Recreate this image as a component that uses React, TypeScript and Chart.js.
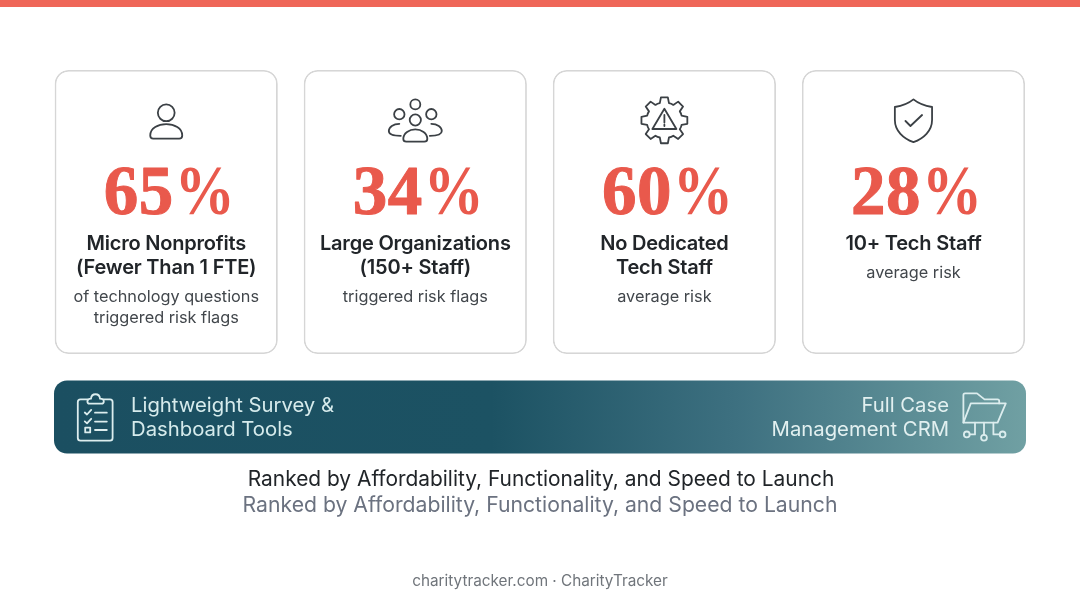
import React, { useEffect, useRef } from "react";
import { Chart, registerables } from "chart.js";

Chart.register(...registerables);

const riskShares = [65, 34, 60, 28];
const cardTitles = [
  ["Micro Nonprofits", "(Fewer Than 1 FTE)"],
  ["Large Organizations", "(150+ Staff)"],
  ["No Dedicated", "Tech Staff"],
  ["10+ Tech Staff"],
];
const cardNotes = [
  ["of technology questions", "triggered risk flags"],
  ["triggered risk flags"],
  ["average risk"],
  ["average risk"],
];
const bandLeft = ["Lightweight Survey &", "Dashboard Tools"];
const bandRight = ["Full Case", "Management CRM"];
const headline = "Ranked by Affordability, Functionality, and Speed to Launch";
const subline = "Ranked by Affordability, Functionality, and Speed to Launch";
const footer = "charitytracker.com · CharityTracker";

const INK = "#212529";
const NOTE = "#41464b";
const ICON = "#3b4045";
const CORAL = "#e9594c";
const SANS = "Inter, 'Noto Sans', sans-serif";
const SERIF = "'Liberation Serif', serif";

const put = (
  ctx: CanvasRenderingContext2D,
  text: string,
  x: number,
  y: number,
  font: string,
  color: string,
  align: CanvasTextAlign = "center",
  spacing = "0px"
) => {
  ctx.font = font;
  ctx.fillStyle = color;
  ctx.textAlign = align;
  ctx.textBaseline = "alphabetic";
  (ctx as any).letterSpacing = spacing;
  ctx.fillText(text, x, y);
  (ctx as any).letterSpacing = "0px";
};

// digits at full width, the percent sign squeezed like the display face in the reference
const putShare = (c: CanvasRenderingContext2D, value: number, x: number, y: number) => {
  const left = x - 62.5;
  put(c, `${value}`, left, y, `bold 69px ${SERIF}`, CORAL, "left", "0.5px");
  c.strokeStyle = CORAL;
  c.lineWidth = 1;
  (c as any).letterSpacing = "0.5px";
  c.strokeText(`${value}`, left, y);
  (c as any).letterSpacing = "0px";
  c.save();
  c.translate(left + 71, y);
  c.scale(0.87, 1);
  put(c, "%", 0, 0, `bold 69px ${SERIF}`, CORAL, "left");
  c.restore();
};

const personIcon = (c: CanvasRenderingContext2D, x: number) => {
  c.beginPath();
  c.arc(x, 112.8, 8.4, 0, Math.PI * 2);
  c.stroke();
  c.beginPath();
  c.moveTo(x - 13, 138.6);
  c.quadraticCurveTo(x - 16, 138.6, x - 16, 135.5);
  c.bezierCurveTo(x - 16, 128, x - 8, 124.2, x, 124.2);
  c.bezierCurveTo(x + 8, 124.2, x + 16, 128, x + 16, 135.5);
  c.quadraticCurveTo(x + 16, 138.6, x + 13, 138.6);
  c.closePath();
  c.stroke();
};

const groupIcon = (c: CanvasRenderingContext2D, x: number) => {
  for (const [dx, y, r] of [
    [0, 104.4, 5],
    [-16, 114.2, 5.2],
    [16, 114.2, 5.2],
    [0, 120, 5.6],
  ]) {
    c.beginPath();
    c.arc(x + dx, y, r, 0, Math.PI * 2);
    c.stroke();
  }
  c.beginPath();
  c.moveTo(x - 9, 141.6);
  c.quadraticCurveTo(x - 12, 141.6, x - 12, 139);
  c.bezierCurveTo(x - 12, 133, x - 6, 129.4, x, 129.4);
  c.bezierCurveTo(x + 6, 129.4, x + 12, 133, x + 12, 139);
  c.quadraticCurveTo(x + 12, 141.6, x + 9, 141.6);
  c.closePath();
  c.stroke();
  for (const s of [-1, 1]) {
    c.beginPath();
    c.moveTo(x + s * 16, 123.8);
    c.bezierCurveTo(x + s * 22, 123.8, x + s * 26.5, 127, x + s * 26.5, 131);
    c.bezierCurveTo(x + s * 26.5, 134.5, x + s * 23, 135.8, x + s * 14.5, 135.8);
    c.stroke();
  }
};

const gearIcon = (c: CanvasRenderingContext2D, x: number) => {
  const y = 120.3;
  c.beginPath();
  for (let i = 0; i < 8; i++) {
    const a = (i * Math.PI) / 4 - Math.PI / 2;
    const p = (r: number, d: number) => [x + r * Math.cos(a + d), y + r * Math.sin(a + d)];
    const [x1, y1] = p(17.8, -0.26);
    const [x2, y2] = p(23.2, -0.15);
    const [x3, y3] = p(23.2, 0.15);
    const [x4, y4] = p(17.8, 0.26);
    const [x5, y5] = p(18.2, Math.PI / 8);
    if (i === 0) c.moveTo(x1, y1);
    else c.lineTo(x1, y1);
    c.lineTo(x2, y2);
    c.lineTo(x3, y3);
    c.lineTo(x4, y4);
    c.quadraticCurveTo(x5, y5, ...(p(17.8, Math.PI / 4 - 0.26) as [number, number]));
  }
  c.closePath();
  c.stroke();
  c.beginPath();
  c.moveTo(x, 108.8);
  c.lineTo(x + 12, 129);
  c.lineTo(x - 12, 129);
  c.closePath();
  c.stroke();
  c.beginPath();
  c.moveTo(x, 115);
  c.lineTo(x, 122.6);
  c.moveTo(x, 124.6);
  c.lineTo(x, 126);
  c.stroke();
};

const shieldIcon = (c: CanvasRenderingContext2D, x: number) => {
  c.beginPath();
  c.moveTo(x, 99.4);
  c.bezierCurveTo(x + 5, 103.5, x + 12, 106, x + 18.6, 107);
  c.lineTo(x + 18.6, 120);
  c.bezierCurveTo(x + 18.6, 131, x + 10, 138.5, x, 142.2);
  c.bezierCurveTo(x - 10, 138.5, x - 18.6, 131, x - 18.6, 120);
  c.lineTo(x - 18.6, 107);
  c.bezierCurveTo(x - 12, 106, x - 5, 103.5, x, 99.4);
  c.closePath();
  c.stroke();
  c.beginPath();
  c.moveTo(x - 8, 121);
  c.lineTo(x - 3, 126);
  c.lineTo(x + 8.6, 115);
  c.stroke();
};

const clipboardIcon = (c: CanvasRenderingContext2D) => {
  c.beginPath();
  c.moveTo(87.5, 399.4);
  c.lineTo(80.5, 399.4);
  c.quadraticCurveTo(77.8, 399.4, 77.8, 402);
  c.lineTo(77.8, 438);
  c.quadraticCurveTo(77.8, 440.6, 80.5, 440.6);
  c.lineTo(110, 440.6);
  c.quadraticCurveTo(112.6, 440.6, 112.6, 438);
  c.lineTo(112.6, 402);
  c.quadraticCurveTo(112.6, 399.4, 110, 399.4);
  c.lineTo(103.5, 399.4);
  c.stroke();
  c.beginPath();
  c.moveTo(89.5, 403.6);
  c.quadraticCurveTo(87.4, 403.6, 87.4, 401.4);
  c.quadraticCurveTo(87.4, 398.6, 91, 398.6);
  c.bezierCurveTo(91.4, 392.8, 99.6, 392.8, 100, 398.6);
  c.quadraticCurveTo(103.8, 398.6, 103.8, 401.4);
  c.quadraticCurveTo(103.8, 403.6, 101.5, 403.6);
  c.closePath();
  c.stroke();
  for (const y of [412.7, 421.6, 430]) {
    c.beginPath();
    c.moveTo(95, y);
    c.lineTo(106.8, y);
    c.stroke();
  }
  for (const y of [412.5, 421.4]) {
    c.beginPath();
    c.moveTo(84.8, y);
    c.lineTo(87, y + 2);
    c.lineTo(91.2, y - 2.6);
    c.stroke();
  }
  c.strokeRect(85.2, 427.6, 5, 4.8);
};

const folderIcon = (c: CanvasRenderingContext2D) => {
  c.beginPath();
  c.moveTo(963.4, 422.6);
  c.lineTo(963.4, 395);
  c.quadraticCurveTo(963.4, 393.4, 965, 393.4);
  c.lineTo(977, 393.4);
  c.lineTo(984.5, 399.4);
  c.lineTo(997.5, 399.4);
  c.quadraticCurveTo(999.2, 399.4, 999.2, 401);
  c.lineTo(999.2, 403.4);
  c.stroke();
  c.beginPath();
  c.moveTo(970.8, 403.4);
  c.lineTo(1005.8, 403.4);
  c.lineTo(997.6, 422.6);
  c.lineTo(963.4, 422.6);
  c.closePath();
  c.stroke();
  c.beginPath();
  c.moveTo(984, 422.6);
  c.lineTo(984, 434.8);
  c.moveTo(975, 422.6);
  c.lineTo(975, 434.4);
  c.lineTo(969.6, 434.4);
  c.moveTo(993.4, 422.6);
  c.lineTo(993.4, 434.4);
  c.lineTo(999.8, 434.4);
  c.stroke();
  for (const [x, y] of [
    [966.8, 434.4],
    [984, 437.8],
    [1002.6, 434.4],
  ]) {
    c.beginPath();
    c.arc(x, y, 2.9, 0, Math.PI * 2);
    c.stroke();
  }
};

const cardIcons = [personIcon, groupIcon, gearIcon, shieldIcon];

const slidePlugin = {
  id: "slide",
  beforeDraw(chart: Chart) {
    const c = chart.ctx;
    c.save();
    c.fillStyle = "#ffffff";
    c.fillRect(0, 0, chart.width, chart.height);
    c.fillStyle = "#ef6658";
    c.fillRect(0, 0, chart.width, 7);

    const band = c.createLinearGradient(54, 0, 1026, 0);
    band.addColorStop(0, "#1b4f61");
    band.addColorStop(0.45, "#1c5263");
    band.addColorStop(0.7, "#3d7080");
    band.addColorStop(1, "#70a0a3");
    c.fillStyle = band;
    c.beginPath();
    c.roundRect(54, 380.5, 972, 73, 13);
    c.fill();
    c.restore();
  },
  afterDatasetsDraw(chart: Chart) {
    const c = chart.ctx;
    const bars = chart.getDatasetMeta(0).data;
    c.save();
    bars.forEach((bar, i) => {
      const x = bar.x;
      c.strokeStyle = ICON;
      c.lineWidth = 1.8;
      c.lineJoin = "round";
      c.lineCap = "round";
      cardIcons[i](c, x);

      putShare(c, riskShares[i], x, 214);

      let y = 250;
      cardTitles[i].forEach((line, k) => {
        y = 250 + k * 24;
        put(c, line, x, y, `600 20px ${SANS}`, INK, "center", "-0.2px");
      });
      cardNotes[i].forEach((line, k) => {
        put(c, line, x, y + 28 + k * 21, `400 16.3px ${SANS}`, NOTE);
      });
    });

    c.strokeStyle = "#dcedee";
    c.lineWidth = 1.8;
    c.lineJoin = "round";
    c.lineCap = "round";
    clipboardIcon(c);
    folderIcon(c);
    bandLeft.forEach((line, k) => {
      put(c, line, 131, 412 + k * 23.5, `400 20.3px ${SANS}`, "#d6ebec", "left");
    });
    bandRight.forEach((line, k) => {
      put(c, line, 949, 412 + k * 23.5, `400 20.3px ${SANS}`, "#e2f0f0", "right");
    });

    put(c, headline, 541, 486, `400 20.9px ${SANS}`, INK);
    put(c, subline, 540, 512, `400 21.2px ${SANS}`, "#6b7280");
    put(c, footer, 540, 586, `400 15.3px ${SANS}`, "#70757b");
    c.restore();
  },
};

const App = () => {
  const canvasRef = useRef<HTMLCanvasElement | null>(null);

  useEffect(() => {
    const ctx = canvasRef.current?.getContext("2d") as CanvasRenderingContext2D;
    const chart = new Chart(ctx, {
      type: "bar",
      data: {
        labels: cardTitles.map((t) => t.join(" ")),
        datasets: [
          {
            label: "Card",
            data: riskShares.map(() => [0, 100]) as any,
            backgroundColor: "#ffffff",
            borderColor: "#d6d6d6",
            borderWidth: 1.8,
            borderRadius: 14,
            borderSkipped: false,
            barPercentage: 0.896,
            categoryPercentage: 1,
          },
        ],
      },
      options: {
        animation: false,
        responsive: false,
        layout: { padding: { left: 41.7, right: 42, top: 70, bottom: 249 } },
        scales: {
          x: { display: false },
          y: { display: false, min: 0, max: 100 },
        },
        plugins: { legend: { display: false }, tooltip: { enabled: false } },
      },
      plugins: [slidePlugin],
    });

    return () => {
      chart.destroy();
    };
  }, []);

  return (
    <div style={{ position: "absolute", left: 0, top: 0, width: 1080, height: 603 }}>
      <canvas ref={canvasRef} width={1080} height={603} style={{ display: "block" }} />
    </div>
  );
};

export default App;
